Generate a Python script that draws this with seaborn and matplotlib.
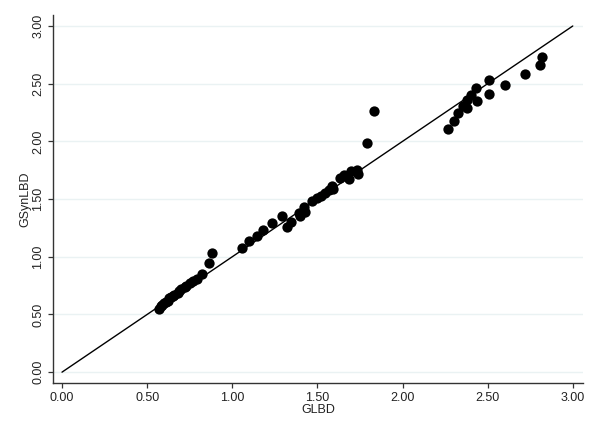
import matplotlib
matplotlib.use("Agg")
import matplotlib.pyplot as plt
import seaborn as sns
import pandas as pd

glbd = [0.57, 0.58, 0.59, 0.60, 0.61, 0.62, 0.63, 0.64, 0.65, 0.66, 0.68, 0.69,
        0.70, 0.72, 0.73, 0.75, 0.77, 0.79, 0.82, 0.863, 0.88,
        1.057, 1.10, 1.145, 1.18, 1.233, 1.29, 1.32, 1.345, 1.39, 1.40, 1.42, 1.43,
        1.47, 1.50, 1.52, 1.545, 1.57, 1.585, 1.59, 1.63, 1.655, 1.685, 1.70, 1.73,
        1.74, 1.79, 1.83,
        2.27, 2.30, 2.325, 2.355, 2.38, 2.38, 2.40, 2.43, 2.44, 2.51, 2.51, 2.60,
        2.72, 2.81, 2.82]
gsynlbd = [0.55, 0.57, 0.58, 0.60, 0.61, 0.62, 0.64, 0.65, 0.66, 0.67, 0.69, 0.70,
           0.72, 0.74, 0.75, 0.77, 0.79, 0.81, 0.85, 0.95, 1.03,
           1.08, 1.135, 1.18, 1.23, 1.29, 1.35, 1.26, 1.30, 1.38, 1.35, 1.43, 1.39,
           1.48, 1.51, 1.53, 1.55, 1.58, 1.61, 1.59, 1.68, 1.71, 1.67, 1.74, 1.75,
           1.72, 1.99, 2.26,
           2.11, 2.18, 2.25, 2.31, 2.29, 2.36, 2.40, 2.46, 2.35, 2.53, 2.41, 2.49,
           2.58, 2.66, 2.73]
line_x = [0.0, 3.0]
line_y = [0.0, 3.0]
ticks = [0.0, 0.5, 1.0, 1.5, 2.0, 2.5, 3.0]
tick_labels = ["0.00", "0.50", "1.00", "1.50", "2.00", "2.50", "3.00"]

df = pd.DataFrame({"GLBD": glbd, "GSynLBD": gsynlbd})
line_df = pd.DataFrame({"x": line_x, "y": line_y})

sns.set_theme(style="white")
plt.rcParams["font.family"] = ["Liberation Sans", "DejaVu Sans"]

fig = plt.figure(figsize=(5.98, 4.21), dpi=100)
ax = fig.add_axes([0.0886, 0.090, 0.886, 0.874])

for t in ticks:
    ax.axhline(t, color="#eaf2f3", lw=1.0, zorder=0)

sns.lineplot(data=line_df, x="x", y="y", ax=ax, color="black", lw=1.0, zorder=2)
sns.scatterplot(data=df, x="GLBD", y="GSynLBD", ax=ax, color="black", s=55,
                edgecolor="black", linewidth=0, zorder=3)

ax.set_xlim(-0.053, 3.059)
ax.set_ylim(-0.095, 3.094)
ax.set_xticks(ticks)
ax.set_xticklabels(tick_labels)
ax.set_yticks(ticks)
ax.set_yticklabels(tick_labels, rotation=90, va="center")
ax.tick_params(axis="both", which="both", direction="out", length=3.6, width=0.9,
               color="#333333", labelsize=9, labelcolor="#222222", pad=2.5,
               bottom=True, left=True)
for side in ["top", "right"]:
    ax.spines[side].set_visible(False)
for side in ["left", "bottom"]:
    ax.spines[side].set_color("#333333")
    ax.spines[side].set_linewidth(1.0)

ax.set_xlabel("GLBD", fontsize=9, color="#222222", labelpad=0)
ax.set_ylabel("GSynLBD", fontsize=9, color="#222222", labelpad=1)

fig.savefig("out.png", dpi=100, facecolor="white")
